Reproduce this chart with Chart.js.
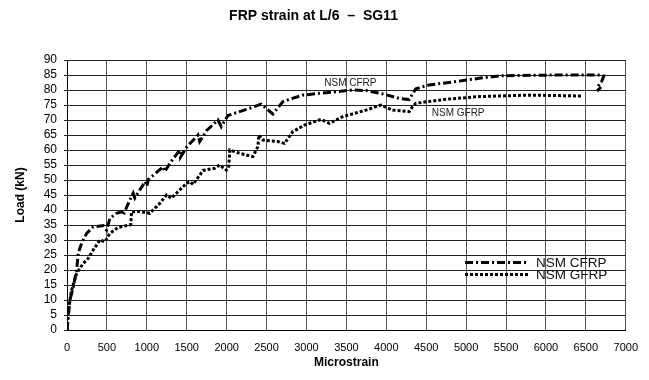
<!DOCTYPE html>
<html lang="en">
<head>
  <meta charset="UTF-8" />
  <title>FRP strain at L/6 - SG11</title>
  <script src="https://cdn.jsdelivr.net/npm/chart.js"></script>
  <style>
    body { margin: 0; background: #fff; }
    #wrap { width: 649px; height: 380px; }
  </style>
</head>
<body>
  <div id="wrap"><canvas id="strainChart" width="649" height="380"></canvas></div>

  <script>
    // data (microstrain, load kN)
    const cfrpStrain = [0, 37, 79, 121, 141, 183, 246, 329, 454, 496, 537, 621, 690, 704, 787, 829, 850, 920, 980, 1000, 1020, 1204, 1225, 1300, 1412, 1421, 1500, 1641, 1662, 1750, 1891, 1933, 2016, 2162, 2300, 2433, 2579, 2704, 2800, 2954, 3246, 3579, 3750, 3954, 4162, 4287, 4330, 4371, 4537, 4787, 5162, 5412, 5800, 6200, 6662, 6725, 6700, 6660, 6640, 6655, 6690];
    const cfrpLoad   = [0, 10, 14.4, 20, 25.6, 28.9, 32.2, 34.4, 34.8, 33.3, 37.2, 38.9, 39.4, 38.3, 43.3, 45.6, 44, 47, 49.5, 48, 50.2, 54.4, 52.8, 56, 60, 57.6, 61, 65, 62.8, 66.5, 70, 67.8, 71.5, 72.8, 74, 75.3, 72, 76.1, 77, 78.3, 79.1, 80, 79.8, 78.7, 77.2, 76.8, 78.8, 80.4, 81.7, 82.5, 83.9, 84.7, 84.9, 85, 85, 84.7, 83, 81.5, 80.5, 80, 81];

    const gfrpStrain = [0, 17, 58, 121, 204, 266, 329, 412, 475, 537, 641, 787, 800, 808, 900, 1037, 1162, 1246, 1308, 1496, 1540, 1580, 1704, 1850, 1912, 1996, 2025, 2040, 2162, 2329, 2391, 2404, 2454, 2641, 2725, 2829, 2975, 3183, 3287, 3454, 3746, 3933, 4079, 4200, 4287, 4330, 4371, 4746, 5162, 5787, 6454];
    const gfrpLoad   = [0, 6.7, 13.3, 18.9, 22.2, 23.9, 26.7, 30, 29.4, 32.2, 34.2, 35, 35.3, 39.4, 39.5, 38.9, 42.2, 45, 43.9, 48.9, 49.5, 48.5, 53.2, 53.9, 55, 53.3, 54, 60, 58.9, 57.8, 61.1, 65, 63.3, 62.8, 62.2, 66.1, 68.3, 70.2, 68.9, 71.1, 73.3, 75, 73.3, 73, 72.8, 74.5, 75.6, 76.9, 77.8, 78.3, 78];

    const seriesNames = ['NSM CFRP', 'NSM GFRP'];
    // label positions inside the plot (strain, load)
    const noteX = [3550, 4900];
    const noteY = [82.3, 72.3];

    const fontFamily = "'Liberation Sans', Arial, sans-serif";

    function toPoints(xs, ys) {
      return xs.map((x, i) => ({ x: x, y: ys[i] }));
    }

    // notes in the plot + legend on the lower right
    const notesPlugin = {
      id: 'notes',
      afterDatasetsDraw(chart) {
        const ctx = chart.ctx;
        const xs = chart.scales.x, ys = chart.scales.y;
        ctx.save();
        ctx.fillStyle = '#222';
        ctx.textAlign = 'center';
        ctx.textBaseline = 'middle';
        ctx.font = '10px ' + fontFamily;
        seriesNames.forEach((name, i) => {
          ctx.fillText(name, xs.getPixelForValue(noteX[i]), ys.getPixelForValue(noteY[i]));
        });

        // legend
        chart.data.datasets.forEach((ds, i) => {
          const y = 262.5 + i * 12;
          ctx.beginPath();
          ctx.setLineDash(ds.borderDash);
          ctx.lineWidth = ds.borderWidth;
          ctx.strokeStyle = ds.borderColor;
          ctx.moveTo(465, y);
          ctx.lineTo(528, y);
          ctx.stroke();
          ctx.setLineDash([]);
          ctx.fillStyle = '#111';
          ctx.textAlign = 'left';
          ctx.font = '13.5px ' + fontFamily;
          ctx.fillText(ds.label, 536, y + 0.5);
        });
        ctx.restore();
      }
    };

    const ctx = document.getElementById('strainChart');
    new Chart(ctx, {
      type: 'line',
      data: {
        datasets: [{
          label: seriesNames[0],
          data: toPoints(cfrpStrain, cfrpLoad),
          borderColor: '#000',
          borderWidth: 3,
          borderDash: [8, 3, 2, 3],
          pointRadius: 0,
          tension: 0,
          fill: false
        }, {
          label: seriesNames[1],
          data: toPoints(gfrpStrain, gfrpLoad),
          borderColor: '#000',
          borderWidth: 3,
          borderDash: [3, 2],
          pointRadius: 0,
          tension: 0,
          fill: false
        }]
      },
      options: {
        responsive: false,
        animation: false,
        layout: { padding: { left: 0, right: 22, top: 0, bottom: 0 } },
        plugins: {
          legend: { display: false },
          tooltip: { enabled: false },
          title: {
            display: true,
            text: 'FRP strain at L/6  \u2013  SG11',
            color: '#000',
            font: { family: fontFamily, size: 14, weight: 'bold' },
            padding: { top: 8, bottom: 35.2 }
          }
        },
        scales: {
          x: {
            type: 'linear',
            min: 0,
            max: 7000,
            afterFit(scale) { scale.height = 50; },
            ticks: {
              stepSize: 500,
              color: '#000',
              padding: 11,
              maxRotation: 0,
              autoSkip: false,
              font: { family: fontFamily, size: 11 },
              callback: v => String(v)
            },
            grid: { color: '#555', lineWidth: 1, drawTicks: false },
            border: { color: '#000' },
            title: {
              display: true,
              text: 'Microstrain',
              color: '#000',
              font: { family: fontFamily, size: 12, weight: 'bold' },
              padding: { top: 0, bottom: 10 }
            }
          },
          y: {
            min: 0,
            max: 90,
            afterFit(scale) { scale.width = 67; },
            ticks: {
              stepSize: 5,
              color: '#000',
              padding: 7,
              autoSkip: false,
              font: { family: fontFamily, size: 12 },
              callback: v => String(v)
            },
            grid: { color: '#222', lineWidth: 1, drawTicks: true, tickLength: 3 },
            border: { color: '#000' },
            title: {
              display: true,
              text: 'Load (kN)',
              color: '#000',
              font: { family: fontFamily, size: 12, weight: 'bold' },
              padding: { top: 13, bottom: 0 }
            }
          }
        }
      },
      plugins: [notesPlugin]
    });
  </script>
</body>
</html>
